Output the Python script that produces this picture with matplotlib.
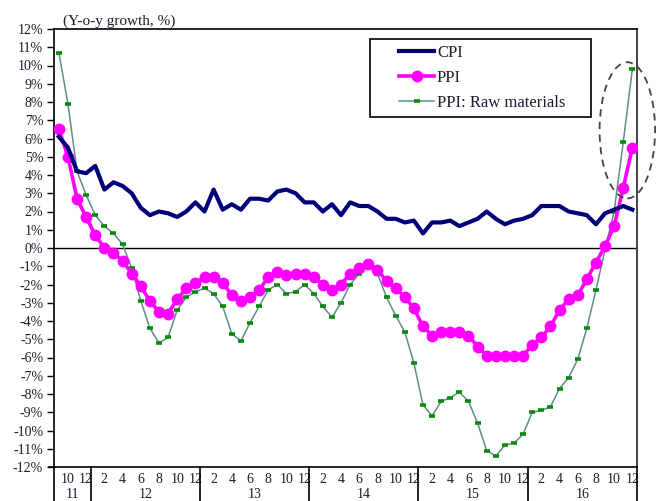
import matplotlib
matplotlib.use("Agg")
import matplotlib.pyplot as plt
import matplotlib.transforms as mtransforms
from matplotlib.patches import Ellipse, Rectangle
from matplotlib.lines import Line2D
from matplotlib.ticker import FuncFormatter, FixedLocator

# Monthly y-o-y growth, Sep 2011 - Dec 2016
cpi = [6.1, 5.5, 4.2, 4.1,
       4.5, 3.2, 3.6, 3.4, 3.0, 2.2, 1.8, 2.0, 1.9, 1.7, 2.0, 2.5,
       2.0, 3.2, 2.1, 2.4, 2.1, 2.7, 2.7, 2.6, 3.1, 3.2, 3.0, 2.5,
       2.5, 2.0, 2.4, 1.8, 2.5, 2.3, 2.3, 2.0, 1.6, 1.6, 1.4, 1.5,
       0.8, 1.4, 1.4, 1.5, 1.2, 1.4, 1.6, 2.0, 1.6, 1.3, 1.5, 1.6,
       1.8, 2.3, 2.3, 2.3, 2.0, 1.9, 1.8, 1.3, 1.9, 2.1, 2.3, 2.1]
ppi = [6.5, 5.0, 2.7, 1.7,
       0.7, 0.0, -0.3, -0.7, -1.4, -2.1, -2.9, -3.5, -3.6, -2.8, -2.2, -1.9,
       -1.6, -1.6, -1.9, -2.6, -2.9, -2.7, -2.3, -1.6, -1.3, -1.5, -1.4, -1.4,
       -1.6, -2.0, -2.3, -2.0, -1.4, -1.1, -0.9, -1.2, -1.8, -2.2, -2.7, -3.3,
       -4.3, -4.8, -4.6, -4.6, -4.6, -4.8, -5.4, -5.9, -5.9, -5.9, -5.9, -5.9,
       -5.3, -4.9, -4.3, -3.4, -2.8, -2.6, -1.7, -0.8, 0.1, 1.2, 3.3, 5.5]
ppi_raw = [10.7, 7.9, 4.2, 2.9,
           1.8, 1.2, 0.8, 0.2, -1.1, -2.9, -4.4, -5.2, -4.9, -3.4, -2.7, -2.4,
           -2.2, -2.5, -3.2, -4.7, -5.1, -4.1, -3.2, -2.3, -2.0, -2.5, -2.4, -2.0,
           -2.5, -3.2, -3.8, -3.0, -2.0, -1.4, -0.8, -1.4, -2.7, -3.7, -4.6, -6.3,
           -8.6, -9.2, -8.4, -8.2, -7.9, -8.4, -9.6, -11.1, -11.4, -10.8, -10.7, -10.2,
           -9.0, -8.9, -8.7, -7.7, -7.1, -6.1, -4.4, -2.3, -0.1, 2.0, 5.8, 9.8]

year_labels = ["11", "12", "13", "14", "15", "16"]
months_per_year = [4, 12, 12, 12, 12, 12]
first_month = 9

serif = ["Liberation Serif", "DejaVu Serif"]
plt.rcParams["font.family"] = serif
txt_color = "#1c1c30"

fig = plt.figure(figsize=(6.56, 5.01), dpi=100)
ax = fig.add_axes([54.3 / 656, 1 - 467 / 501, 582.6 / 656, 438 / 501])

x = list(range(len(cpi)))

ax.plot(x, ppi_raw, color="#5f8d8a", lw=1.1, marker="_", ms=5,
        mew=2.6, mec="#0a8a0a", zorder=3, label="PPI: Raw materials")
ax.plot(x, ppi, color="#ff00ff", lw=2.6, marker="o", ms=7.5,
        mec="#ff00ff", mfc="#ff00ff", zorder=4, label="PPI")
ax.plot(x, cpi, color="#00007a", lw=3.0, zorder=5, label="CPI",
        solid_joinstyle="round")

ax.axhline(0, color="black", lw=1.0, zorder=2)

ax.set_xlim(-0.5, len(cpi) - 0.5)
ax.set_ylim(-12, 12)
ax.yaxis.set_major_locator(FixedLocator(range(-12, 13)))
ax.yaxis.set_major_formatter(FuncFormatter(lambda v, p: f"{int(round(v))}%"))
ax.tick_params(axis="y", direction="out", length=5, width=1, pad=3,
               labelsize=10, labelcolor=txt_color)

# month tick labels (even months only)
month_nums = [(first_month - 1 + i) % 12 + 1 for i in range(len(cpi))]
tick_pos = [i for i, m in enumerate(month_nums) if m % 2 == 0]
ax.set_xticks(tick_pos)
ax.set_xticklabels([str(month_nums[i]) for i in tick_pos])
ax.tick_params(axis="x", length=0, pad=4, labelsize=10, labelcolor=txt_color)

for s in ["left", "bottom", "top"]:
    ax.spines[s].set_color("black")
    ax.spines[s].set_linewidth(1.2)
ax.spines["right"].set_color("#444444")
ax.spines["right"].set_linewidth(1.4)

# year separators and year labels below the axis
trans = mtransforms.blended_transform_factory(ax.transData, ax.transAxes)
bounds = [-0.5]
for n in months_per_year:
    bounds.append(bounds[-1] + n)
for b in bounds:
    ax.add_line(Line2D([b, b], [0, -0.08], transform=trans, color="black",
                       lw=1.2, clip_on=False))
for lab, a, b in zip(year_labels, bounds[:-1], bounds[1:]):
    ax.text((a + b) / 2, -0.062, lab, transform=trans, ha="center",
            va="center", fontsize=10, color=txt_color)
# axis line extends slightly left of the spine
ax.add_line(Line2D([-1.1, -0.5], [-12, -12], color="black", lw=1.2,
                   clip_on=False))

ax.text(0.5, 12.05, "(Y-o-y growth, %)", fontsize=11, color=txt_color,
        va="bottom", ha="left")

ell = Ellipse((62.45, 6.45), 6.1, 7.46, fill=False, ls=(0, (4, 3)),
              ec="#444444", lw=1.3, clip_on=False, zorder=6)
ax.add_patch(ell)

# legend: entries without frame, box drawn separately
ax.add_patch(Rectangle((0.5419, 0.7991), 0.9212 - 0.5419, 0.9772 - 0.7991,
                       transform=ax.transAxes, fill=True, fc="white",
                       ec="black", lw=1.2, zorder=7))
handles, labels = ax.get_legend_handles_labels()
order = [2, 1, 0]
leg = ax.legend([handles[i] for i in order], [labels[i] for i in order],
                loc="upper left", bbox_to_anchor=(0.591, 0.963),
                frameon=False, fontsize=12, handlelength=2.15,
                handletextpad=0.15, borderpad=0, labelspacing=0.52,
                borderaxespad=0)
for t in leg.get_texts():
    t.set_color(txt_color)
leg.set_zorder(8)

fig.savefig("out.png", dpi=100)
